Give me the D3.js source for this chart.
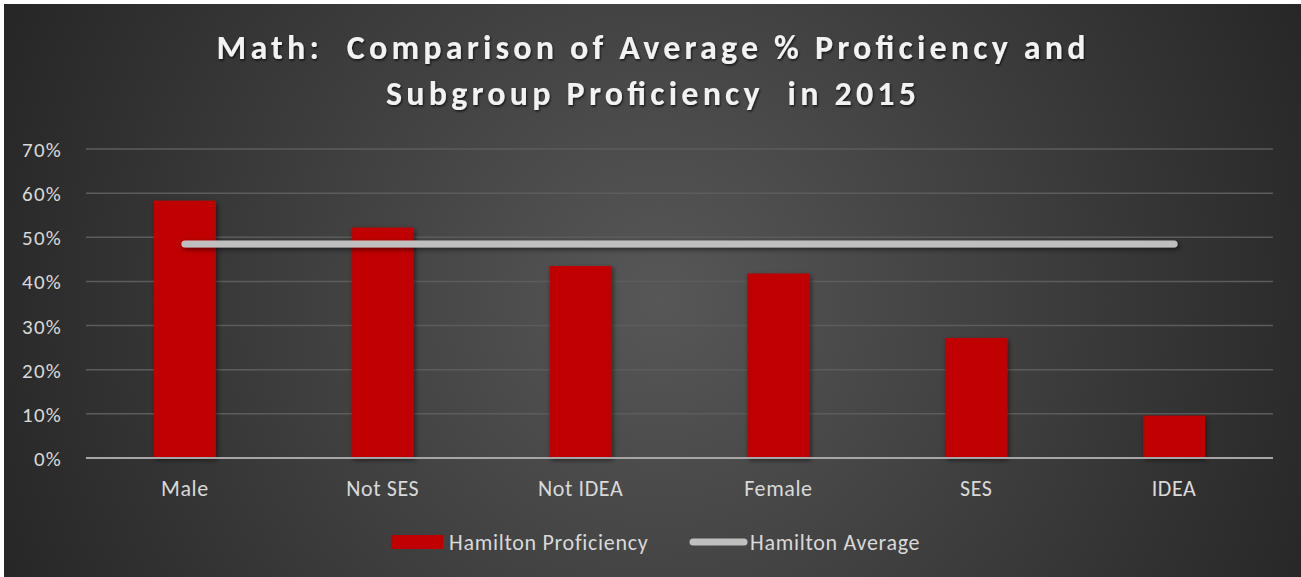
<!DOCTYPE html>
<html>
<head>
<meta charset="utf-8">
<script src="https://cdn.jsdelivr.net/npm/d3@7"></script>
<style>
  html, body { margin: 0; padding: 0; background: #ffffff; }
  svg { display: block; }
  text { font-family: Carlito, Lato, "Open Sans", sans-serif; }
</style>
</head>
<body>
<div id="chart"></div>
<script>
var categories = ["Male", "Not SES", "Not IDEA", "Female", "SES", "IDEA"];
var proficiency = [0.583, 0.522, 0.435, 0.418, 0.272, 0.096];
var average = [0.485, 0.485, 0.485, 0.485, 0.485, 0.485];
var yTicks = [0, 0.1, 0.2, 0.3, 0.4, 0.5, 0.6, 0.7];
var titleLines = ["Math:  Comparison of Average % Proficiency and", "Subgroup Proficiency  in 2015"];
var titleWidths = [869, 530];
var seriesNames = ["Hamilton Proficiency", "Hamilton Average"];

var width = 1301,
    height = 577,
    margin = {top: 149, right: 28, bottom: 119, left: 86};

var svg = d3.select("#chart").append("svg")
    .attr("width", width)
    .attr("height", height);

var defs = svg.append("defs");

var bg = defs.append("radialGradient")
    .attr("id", "bg")
    .attr("gradientUnits", "userSpaceOnUse")
    .attr("cx", 660).attr("cy", 300).attr("r", 720);
bg.append("stop").attr("offset", "0%").attr("stop-color", "#575757");
bg.append("stop").attr("offset", "100%").attr("stop-color", "#262626");

// filter in user space so the flat line still gets drawn
var shadow = defs.append("filter")
    .attr("id", "shadow")
    .attr("filterUnits", "userSpaceOnUse")
    .attr("x", 0).attr("y", 0)
    .attr("width", width).attr("height", height);
shadow.append("feDropShadow")
    .attr("dx", 1.5).attr("dy", 2)
    .attr("stdDeviation", 2.5)
    .attr("flood-color", "#000")
    .attr("flood-opacity", 0.55);

var tshadow = defs.append("filter")
    .attr("id", "tshadow")
    .attr("filterUnits", "userSpaceOnUse")
    .attr("x", 0).attr("y", 0)
    .attr("width", width).attr("height", height);
tshadow.append("feDropShadow")
    .attr("dx", 1).attr("dy", 1.5)
    .attr("stdDeviation", 1.2)
    .attr("flood-color", "#000")
    .attr("flood-opacity", 0.7);

// frame
svg.append("rect")
    .attr("x", 4).attr("y", 4)
    .attr("width", width - 4).attr("height", height - 4)
    .attr("fill", "url(#bg)");

var x = d3.scaleBand()
    .domain(categories)
    .range([margin.left, width - margin.right])
    .paddingInner(0.687)
    .paddingOuter(0.3435);

var y = d3.scaleLinear()
    .domain([0, 0.7])
    .range([height - margin.bottom, margin.top]);

// gridlines
svg.append("g")
  .selectAll("line")
    .data(yTicks.slice(1))
    .enter().append("line")
    .attr("x1", margin.left)
    .attr("x2", width - margin.right)
    .attr("y1", function(d) { return y(d); })
    .attr("y2", function(d) { return y(d); })
    .attr("stroke", "#5c5c5c")
    .attr("stroke-width", 1.5);

// y labels
var yAxis = d3.axisLeft(y)
    .tickValues(yTicks)
    .tickFormat(d3.format(".0%"))
    .tickSize(0)
    .tickPadding(24);

var gy = svg.append("g")
    .attr("transform", "translate(" + margin.left + ",0)")
    .call(yAxis);
gy.select(".domain").remove();
gy.selectAll("text")
    .attr("fill", "#d9d9d9")
    .attr("font-size", 21)
    .attr("letter-spacing", 1.2)
    .attr("dy", "0.36em");

// bars
svg.append("g")
  .selectAll("rect")
    .data(proficiency)
    .enter().append("rect")
    .attr("x", function(d, i) { return x(categories[i]); })
    .attr("y", function(d) { return y(d); })
    .attr("width", x.bandwidth())
    .attr("height", function(d) { return y(0) - y(d); })
    .attr("fill", "#c00000")
    .attr("filter", "url(#shadow)");

// baseline
svg.append("line")
    .attr("x1", margin.left)
    .attr("x2", width - margin.right)
    .attr("y1", y(0))
    .attr("y2", y(0))
    .attr("stroke", "#a6a6a6")
    .attr("stroke-width", 2);

// average line
var line = d3.line()
    .x(function(d, i) { return x(categories[i]) + x.bandwidth() / 2; })
    .y(function(d) { return y(d); });

svg.append("path")
    .datum(average)
    .attr("d", line)
    .attr("fill", "none")
    .attr("stroke", "#bfbfbf")
    .attr("stroke-width", 7)
    .attr("stroke-linecap", "round")
    .attr("filter", "url(#shadow)");

// x labels
var xAxis = d3.axisBottom(x).tickSize(0).tickPadding(22);
var gx = svg.append("g")
    .attr("transform", "translate(0," + y(0) + ")")
    .call(xAxis);
gx.select(".domain").remove();
gx.selectAll("text")
    .attr("fill", "#d9d9d9")
    .attr("font-size", 22)
    .attr("letter-spacing", 0.6);

// title
svg.append("g")
  .selectAll("text")
    .data(titleLines)
    .enter().append("text")
    .attr("x", 651)
    .attr("y", function(d, i) { return 59 + i * 46; })
    .attr("text-anchor", "middle")
    .attr("xml:space", "preserve")
    .style("white-space", "pre")
    .attr("font-size", 34)
    .attr("font-weight", "bold")
    .attr("textLength", function(d, i) { return titleWidths[i]; })
    .attr("lengthAdjust", "spacing")
    .attr("fill", "#f2f2f2")
    .attr("filter", "url(#tshadow)")
    .text(function(d) { return d; });

// legend
var legend = svg.append("g");
legend.append("rect")
    .attr("x", 391).attr("y", 535)
    .attr("width", 52).attr("height", 14)
    .attr("fill", "#c00000");
legend.append("text")
    .attr("x", 449).attr("y", 550)
    .attr("font-size", 22)
    .attr("letter-spacing", 0.7)
    .attr("fill", "#d9d9d9")
    .text(seriesNames[0]);
legend.append("line")
    .attr("x1", 693).attr("x2", 744)
    .attr("y1", 542).attr("y2", 542)
    .attr("stroke", "#bfbfbf")
    .attr("stroke-width", 7)
    .attr("stroke-linecap", "round");
legend.append("text")
    .attr("x", 750).attr("y", 550)
    .attr("font-size", 22)
    .attr("letter-spacing", 0.7)
    .attr("fill", "#d9d9d9")
    .text(seriesNames[1]);
</script>
</body>
</html>
